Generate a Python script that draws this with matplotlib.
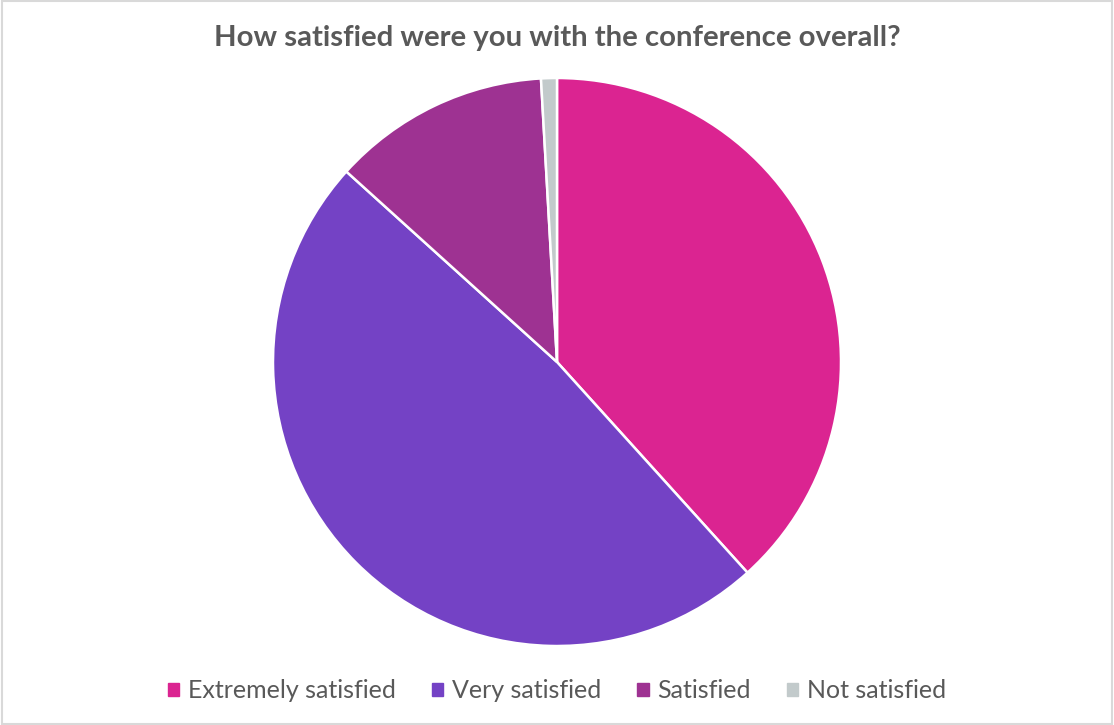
import matplotlib.pyplot as plt
from matplotlib.patches import Rectangle

# data
labels = ["Extremely satisfied", "Very satisfied", "Satisfied", "Not satisfied"]
shares = [38.3, 48.4, 12.4, 0.9]
colors = ["#DB2491", "#7442C5", "#9E3292", "#C2CACB"]

plt.rcParams['font.family'] = ['Lato', 'DejaVu Sans']

fig = plt.figure(figsize=(11.14, 7.25), dpi=100)

# pie axes: centre (557,362), radius ~284 px
W, H = 1114, 725
r = 284
cx, cy = 557, 362
ax = fig.add_axes([(cx - r) / W, 1 - (cy + r) / H, 2 * r / W, 2 * r / H])
ax.pie(shares, colors=colors, startangle=90, counterclock=False, radius=1.0,
       wedgeprops=dict(edgecolor="white", linewidth=1.8))
ax.set_xlim(-1, 1)
ax.set_ylim(-1, 1)
ax.set_aspect('equal')
ax.axis('off')

fig.text(0.5, 1 - 38 / H, "How satisfied were you with the conference overall?",
         ha='center', va='center', fontsize=21.2, fontweight='bold', color='#595959')

handles = [Rectangle((0, 0), 1, 1, color=c) for c in colors]
fig.legend(handles, labels, loc='center', bbox_to_anchor=(0.5, 1 - 691 / H),
           ncol=4, frameon=False, fontsize=18, labelcolor='#595959',
           handlelength=0.45, handleheight=0.45, handletextpad=0.35,
           columnspacing=1.45)

# light border round the chart
fig.add_artist(Rectangle((0.002, 0.002), 0.996, 0.996, transform=fig.transFigure,
                         fill=False, edgecolor='#D9D9D9', linewidth=1.5))

fig.savefig('out.png', dpi=100)
